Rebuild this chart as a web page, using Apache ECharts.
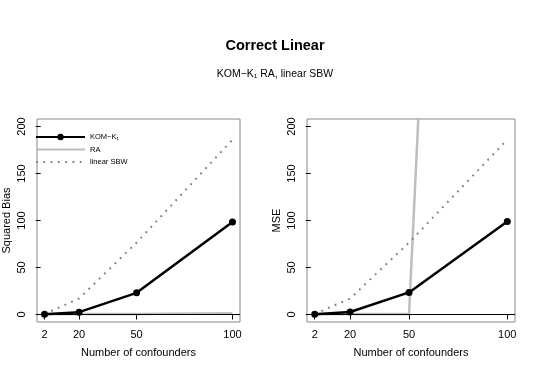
<!DOCTYPE html>
<html><head><meta charset="utf-8">
<script src="https://cdn.jsdelivr.net/npm/echarts@6/dist/echarts.min.js"></script>
<style>html,body{margin:0;padding:0;background:#fff}#c{width:550px;height:388px}</style>
</head><body><div id="c"></div>
<script>
const confounders = [2, 20, 50, 100];
const xTicks = [2, 20, 50, 100];
const yTicks = [0, 50, 100, 150, 200];
const komBias = [0.3, 2.5, 23, 98.5];
const raBias = [0.2, 0.4, 0.6, 1.2];
const sbwBias = [0.5, 17, 76.5, 186];
const komMSE = [0.3, 2.6, 23.5, 99];
const raMSE = [0.3, 0.4, 0.6, 2200];
const sbwMSE = [0.5, 17, 76.5, 186];

const FONT = 'Liberation Sans, Arial, sans-serif';
const pair = (xs, ys) => xs.map((x, i) => [x, ys[i]]);

function xAxisFor(idx) {
  return {
    gridIndex: idx, type: 'value', min: -1.92, max: 103.92,
    name: 'Number of confounders', nameLocation: 'middle', nameGap: 25,
    nameTextStyle: {fontFamily: FONT, fontSize: 11, color: '#000'},
    axisLine: {show: false}, splitLine: {show: false},
    axisTick: {show: true, length: 5, customValues: xTicks, lineStyle: {color: '#000'}},
    axisLabel: {customValues: xTicks, fontFamily: FONT, fontSize: 11, color: '#000', margin: 7}
  };
}
function yAxisFor(idx, name) {
  return {
    gridIndex: idx, type: 'value', min: -8, max: 208,
    name: name, nameLocation: 'middle', nameGap: 25,
    nameTextStyle: {fontFamily: FONT, fontSize: 11, color: '#000'},
    axisLine: {show: false}, splitLine: {show: false},
    axisTick: {show: true, length: 5, customValues: yTicks, lineStyle: {color: '#000'}},
    axisLabel: {customValues: yTicks, rotate: 90, fontFamily: FONT, fontSize: 11, color: '#000', margin: 10}
  };
}
function seriesFor(idx, kom, ra, sbw) {
  return [
    {name: 'RA', type: 'line', xAxisIndex: idx, yAxisIndex: idx, data: pair(confounders, ra),
     showSymbol: false, symbol: 'none', lineStyle: {color: '#bebebe', width: 2.5}, itemStyle: {color: '#bebebe'}, z: 2, clip: true,
     markLine: {silent: true, symbol: 'none', label: {show: false}, lineStyle: {color: '#000', width: 1, type: 'solid'}, data: [{yAxis: 0}]}},
    {name: 'linear SBW', type: 'line', xAxisIndex: idx, yAxisIndex: idx, data: pair(confounders, sbw),
     symbol: 'none', lineStyle: {color: '#808080', width: 2, type: [1.8, 5.5]}, itemStyle: {color: '#808080'}, z: 3, clip: true},
    {name: 'KOM\u2212K\u2081', type: 'line', xAxisIndex: idx, yAxisIndex: idx, data: pair(confounders, kom),
     symbol: 'circle', symbolSize: 7, lineStyle: {color: '#000', width: 2.5}, itemStyle: {color: '#000'}, z: 4, clip: true}
  ];
}

const chart = echarts.init(document.getElementById('c'), null, {renderer: 'canvas'});
chart.setOption({
  animation: false,
  backgroundColor: '#fff',
  title: [
    {text: 'Correct Linear', left: 'center', top: 33, textStyle: {fontFamily: FONT, fontSize: 14.5, fontWeight: 'bold', color: '#000'}},
    {text: 'KOM\u2212K\u2081 RA, linear SBW', left: 'center', top: 64, textStyle: {fontFamily: FONT, fontSize: 10.5, fontWeight: 'normal', color: '#000'}}
  ],
  legend: {
    orient: 'vertical', left: 35, top: 133, padding: 0, itemGap: 4.5, itemWidth: 49, itemHeight: 8,
    data: [
      {name: 'KOM\u2212K\u2081'},
      {name: 'RA', itemStyle: {opacity: 0}},
      {name: 'linear SBW', itemStyle: {opacity: 0}}
    ],
    textStyle: {fontFamily: FONT, fontSize: 7.5, color: '#000'},
    selectedMode: false
  },
  grid: [
    {left: 32, top: 119, width: 208, height: 203, show: true, borderColor: '#888', borderWidth: 1, backgroundColor: 'transparent'},
    {left: 307, top: 119, width: 208, height: 203, show: true, borderColor: '#888', borderWidth: 1, backgroundColor: 'transparent'}
  ],
  xAxis: [xAxisFor(0), xAxisFor(1)],
  yAxis: [yAxisFor(0, 'Squared Bias'), yAxisFor(1, 'MSE')],
  series: [].concat(seriesFor(0, komBias, raBias, sbwBias), seriesFor(1, komMSE, raMSE, sbwMSE))
});
</script></body></html>
